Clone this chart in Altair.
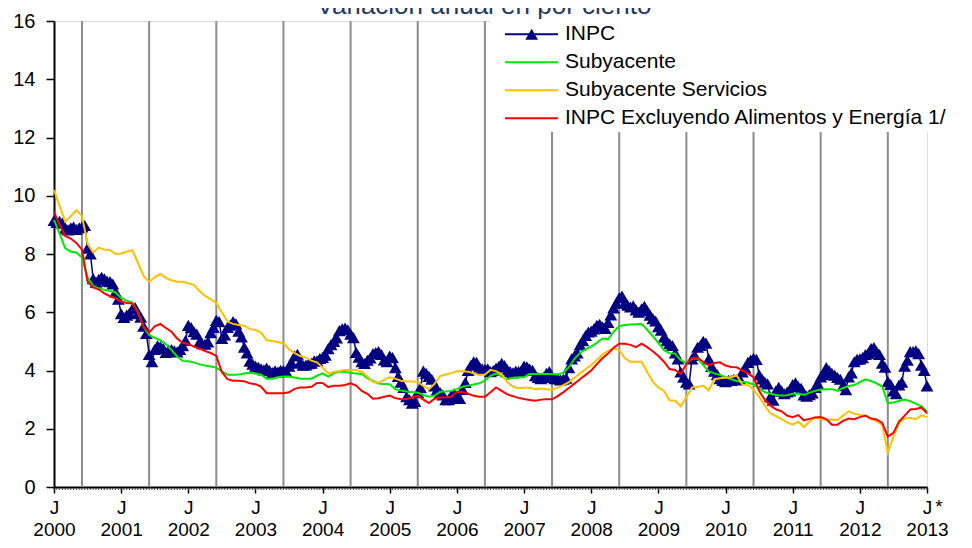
import json
import altair as alt
import pandas as pd

# ---------------- data ----------------
# INPC, fortnightly, 1st half July 2000 ... 1st half July 2013 (313 values)
inpc_2000 = [9.15, 9.08, 9.12, 9.06, 8.88, 8.83, 8.90, 8.93, 8.84, 8.90, 8.93, 8.98]
inpc_2001 = [8.20, 8.00, 7.15, 7.03, 7.13, 7.20, 7.15, 7.07, 7.05, 6.97, 6.70, 6.45,
             5.95, 5.82, 5.90, 5.96, 6.12, 6.16, 5.95, 5.83, 5.52, 5.27, 4.55, 4.30]
inpc_2002 = [4.72, 4.85, 4.82, 4.76, 4.62, 4.70, 4.72, 4.68, 4.64, 4.72, 4.85, 5.03,
             5.55, 5.47, 5.33, 5.25, 4.98, 4.92, 4.90, 4.98, 5.30, 5.48, 5.72, 5.68]
inpc_2003 = [5.10, 5.22, 5.48, 5.56, 5.68, 5.60, 5.35, 5.15, 4.80, 4.60, 4.32, 4.22,
             4.15, 4.11, 4.06, 4.02, 4.08, 4.00, 3.93, 3.99, 3.95, 4.01, 4.00, 3.96]
inpc_2004 = [4.15, 4.25, 4.50, 4.56, 4.28, 4.18, 4.19, 4.23, 4.25, 4.33, 4.33, 4.41,
             4.45, 4.53, 4.75, 4.89, 5.00, 5.12, 5.37, 5.43, 5.46, 5.40, 5.25, 5.13]
inpc_2005 = [4.62, 4.46, 4.30, 4.24, 4.35, 4.43, 4.58, 4.62, 4.65, 4.55, 4.36, 4.30,
             4.50, 4.44, 4.10, 3.80, 3.60, 3.42, 3.10, 3.00, 2.88, 2.94, 3.25, 3.41]
inpc_2006 = [3.98, 3.90, 3.80, 3.70, 3.47, 3.35, 3.24, 3.16, 3.00, 3.00, 3.15, 3.21,
             3.08, 3.04, 3.35, 3.59, 4.00, 4.18, 4.30, 4.28, 4.12, 4.06, 4.04, 4.06]
inpc_2007 = [3.96, 4.00, 4.08, 4.14, 4.25, 4.17, 4.02, 3.96, 3.92, 3.98, 3.96, 4.00,
             4.15, 4.13, 4.05, 4.01, 3.82, 3.76, 3.72, 3.76, 3.90, 3.96, 3.80, 3.72]
inpc_2008 = [3.72, 3.68, 3.70, 3.74, 4.10, 4.40, 4.50, 4.60, 4.88, 5.02, 5.20, 5.32,
             5.35, 5.43, 5.55, 5.59, 5.50, 5.44, 5.65, 5.91, 6.15, 6.31, 6.50, 6.56]
inpc_2009 = [6.32, 6.24, 6.18, 6.22, 6.08, 6.00, 6.12, 6.20, 6.05, 5.90, 5.78, 5.70,
             5.50, 5.38, 5.14, 5.02, 4.92, 4.86, 4.60, 4.40, 3.95, 3.77, 3.60, 3.54]
inpc_2010 = [4.40, 4.52, 4.80, 4.86, 5.00, 4.94, 4.40, 4.14, 3.98, 3.86, 3.72, 3.66,
             3.62, 3.66, 3.66, 3.70, 3.68, 3.72, 3.95, 4.09, 4.28, 4.36, 4.42, 4.38]
inpc_2011 = [3.85, 3.71, 3.60, 3.54, 3.10, 2.98, 3.30, 3.42, 3.30, 3.20, 3.26, 3.30,
             3.52, 3.58, 3.45, 3.39, 3.16, 3.12, 3.17, 3.23, 3.42, 3.54, 3.78, 3.86]
inpc_2012 = [4.10, 4.00, 3.90, 3.84, 3.76, 3.70, 3.48, 3.34, 3.78, 3.92, 4.30, 4.38,
             4.40, 4.44, 4.55, 4.59, 4.75, 4.79, 4.65, 4.55, 4.25, 4.11, 3.62, 3.52]
inpc_2013 = [3.30, 3.20, 3.50, 3.60, 4.15, 4.35, 4.65, 4.65, 4.68, 4.58, 4.18, 4.00, 3.47]

# Monthly series, July 2000 ... July 2013 (157 values)
subyacente = [
    9.17, 8.70, 8.20, 8.08, 8.05, 7.88,
    7.20, 6.90, 6.82, 6.77, 6.73, 6.68, 6.48, 6.40, 6.33, 6.00, 5.50, 5.22,
    5.12, 5.04, 4.90, 4.70, 4.48, 4.33, 4.32, 4.28, 4.21, 4.17, 4.14, 4.10,
    3.97, 3.85, 3.85, 3.86, 3.90, 3.92, 3.90, 3.86, 3.72, 3.72, 3.77, 3.79,
    3.79, 3.76, 3.72, 3.72, 3.72, 3.82, 3.90, 3.79, 3.90, 3.96, 3.95, 3.92,
    3.90, 3.88, 3.74, 3.64, 3.55, 3.54, 3.53, 3.36, 3.31, 3.28, 3.26, 3.24,
    3.16, 3.10, 3.14, 3.27, 3.28, 3.30, 3.36, 3.44, 3.48, 3.52, 3.56, 3.66,
    3.82, 3.90, 3.80, 3.70, 3.75, 3.77, 3.77, 3.88, 3.88, 3.88, 3.88, 3.88,
    3.86, 3.92, 4.12, 4.40, 4.60, 4.73, 4.82, 4.95, 5.10, 5.07, 5.33, 5.52,
    5.56, 5.58, 5.59, 5.60, 5.40, 5.18, 4.95, 4.70, 4.59, 4.58, 4.35, 4.25,
    4.40, 4.42, 4.19, 3.97, 3.90, 3.85, 3.77, 3.70, 3.64, 3.61, 3.59, 3.52,
    3.38, 3.26, 3.20, 3.16, 3.14, 3.15, 3.20, 3.21, 3.16, 3.24, 3.30, 3.35,
    3.36, 3.36, 3.31, 3.40, 3.47, 3.50, 3.60, 3.70, 3.64, 3.56, 3.45, 2.88,
    2.90, 2.95, 3.00, 2.95, 2.86, 2.77, 2.59]

servicios = [
    10.20, 9.65, 9.11, 9.30, 9.50, 9.30,
    8.35, 8.05, 8.22, 8.15, 8.14, 8.00, 8.02, 8.08, 8.13, 7.70, 7.25, 7.05,
    7.20, 7.32, 7.18, 7.10, 7.05, 7.05, 7.00, 6.93, 6.73, 6.56, 6.45, 6.32,
    6.00, 5.68, 5.60, 5.56, 5.54, 5.42, 5.39, 5.30, 5.04, 5.01, 4.98, 4.93,
    4.73, 4.60, 4.50, 4.45, 4.34, 4.28, 4.10, 3.90, 3.95, 3.98, 4.02, 4.02,
    4.02, 3.95, 3.80, 3.60, 3.58, 3.68, 3.77, 3.72, 3.65, 3.62, 3.62, 3.61,
    3.47, 3.36, 3.54, 3.81, 3.86, 3.91, 3.97, 3.97, 3.96, 3.90, 3.85, 3.86,
    4.02, 3.98, 3.88, 3.60, 3.45, 3.39, 3.41, 3.41, 3.36, 3.38, 3.36, 3.34,
    3.41, 3.50, 3.60, 3.75, 3.90, 4.05, 4.19, 4.36, 4.55, 4.67, 4.76, 4.70,
    4.43, 4.30, 4.30, 4.30, 3.95, 3.62, 3.42, 3.30, 2.98, 2.96, 2.77, 3.08,
    3.42, 3.43, 3.48, 3.32, 3.70, 3.73, 3.75, 3.77, 3.83, 3.52, 3.50, 3.35,
    3.10, 2.80, 2.53, 2.43, 2.33, 2.22, 2.14, 2.24, 2.06, 2.25, 2.39, 2.33,
    2.30, 2.32, 2.30, 2.45, 2.60, 2.52, 2.47, 2.45, 2.34, 2.25, 2.13, 1.18,
    1.72, 2.20, 2.35, 2.38, 2.33, 2.46, 2.40]

sin_alim_energia = [
    9.45, 9.00, 8.62, 8.53, 8.38, 8.15,
    7.05, 6.85, 6.78, 6.65, 6.55, 6.48, 6.37, 6.32, 6.30, 6.00, 5.50, 5.30,
    5.52, 5.60, 5.46, 5.33, 5.10, 4.95, 4.90, 4.83, 4.75, 4.67, 4.60, 4.50,
    3.95, 3.70, 3.65, 3.65, 3.63, 3.56, 3.53, 3.45, 3.22, 3.22, 3.22, 3.22,
    3.25, 3.37, 3.42, 3.42, 3.44, 3.57, 3.57, 3.43, 3.48, 3.48, 3.50, 3.56,
    3.48, 3.30, 3.20, 3.03, 3.05, 3.10, 3.14, 3.05, 3.01, 3.02, 3.08, 3.13,
    3.00, 2.88, 3.03, 3.07, 3.08, 3.10, 3.27, 3.26, 3.20, 3.13, 3.10, 3.10,
    3.25, 3.42, 3.30, 3.18, 3.12, 3.06, 3.02, 2.99, 2.96, 3.00, 3.01, 3.01,
    3.12, 3.25, 3.40, 3.55, 3.70, 3.85, 4.00, 4.22, 4.42, 4.58, 4.78, 4.92,
    4.92, 4.88, 4.80, 4.92, 4.80, 4.66, 4.50, 4.30, 4.05, 4.02, 3.88, 4.22,
    4.43, 4.44, 4.30, 4.18, 4.26, 4.28, 4.17, 4.12, 4.11, 4.00, 3.90, 3.77,
    3.30, 3.00, 2.80, 2.67, 2.60, 2.45, 2.40, 2.47, 2.29, 2.34, 2.39, 2.40,
    2.33, 2.14, 2.14, 2.27, 2.35, 2.33, 2.40, 2.45, 2.35, 2.32, 2.20, 1.73,
    1.86, 2.25, 2.45, 2.66, 2.68, 2.73, 2.53]

series_names = ["INPC", "Subyacente", "Subyacente Servicios",
                "INPC Excluyendo Alimentos y Energía 1/"]
series_colors = ["#000080", "#00E800", "#FFC000", "#FF0000"]
year_labels = [str(y) for y in range(2000, 2014)]
tick_letter = "J"
title_text = "Variación anual en por ciento"

# fortnight index of each July (label ticks) and of each year-end divider
label_idx = [24 * k for k in range(14)]
divider_idx = [10 + 24 * k for k in range(13)]

# ---------------- frames ----------------
inpc = (inpc_2000 + inpc_2001 + inpc_2002 + inpc_2003 + inpc_2004 + inpc_2005 +
        inpc_2006 + inpc_2007 + inpc_2008 + inpc_2009 + inpc_2010 + inpc_2011 +
        inpc_2012 + inpc_2013)
inpc_df = pd.DataFrame({"i": list(range(len(inpc))), "v": inpc})
monthly = {series_names[1]: subyacente, series_names[2]: servicios,
           series_names[3]: sin_alim_energia}
div_df = pd.DataFrame({"i": divider_idx})
minor_df = pd.DataFrame({"i": list(range(len(inpc)))})

W, H = 873, 466
FONT = "Liberation Sans"

xscale = alt.Scale(domain=[0, 312], nice=False, zero=False)
yscale = alt.Scale(domain=[0, 16], nice=False, zero=True)
label_expr = "['%s', %s[round(datum.value / 24)]]" % (tick_letter, json.dumps(year_labels))
xaxis = alt.Axis(values=label_idx, labelExpr=label_expr, title=None, grid=False,
                 tickSize=6, tickColor="black", tickWidth=1.5,
                 domainColor="black", domainWidth=2, labelFontSize=19,
                 labelFont=FONT, labelColor="black", labelPadding=5,
                 labelLineHeight=22, labelBaseline="top", labelAngle=0,
                 labelFlush=False, labelOverlap=False)
yaxis = alt.Axis(values=list(range(0, 17, 2)), title=None, grid=False,
                 tickSize=8, tickColor="black", tickWidth=1.5,
                 domainColor="black", domainWidth=2, labelFontSize=20,
                 labelFont=FONT, labelColor="black", labelPadding=11)

X = alt.X("i:Q", scale=xscale, axis=xaxis)
Y = alt.Y("v:Q", scale=yscale, axis=yaxis)

layers = []

# year-end dividers
layers.append(alt.Chart(div_df).mark_rule(color="#8C8C8C", strokeWidth=2).encode(
    x=X, y=alt.value(0), y2=alt.value(H)))

# white box behind the legend
layers.append(alt.Chart(pd.DataFrame({"a": [0]})).mark_rect(color="white").encode(
    x=alt.value(436), x2=alt.value(910), y=alt.value(-1), y2=alt.value(111)))

# INPC line + triangles
layers.append(alt.Chart(inpc_df).mark_line(color=series_colors[0], strokeWidth=1.5).encode(x=X, y=Y))
layers.append(alt.Chart(inpc_df).mark_point(shape="triangle-up", filled=True, size=165,
                                            color=series_colors[0], opacity=1).encode(x=X, y=Y))

# other series
for name, color in zip(series_names[1:], series_colors[1:]):
    vals = monthly[name]
    df = pd.DataFrame({"i": [2 * m for m in range(len(vals))], "v": vals})
    layers.append(alt.Chart(df).mark_line(color=color, strokeWidth=2).encode(x=X, y=Y))

# minor (fortnight) ticks
layers.append(alt.Chart(minor_df).mark_rule(color="#444444", strokeWidth=1).encode(
    x=X, y=alt.value(H + 1), y2=alt.value(H + 3)))

# asterisk after the last tick label
layers.append(alt.Chart(pd.DataFrame({"i": [label_idx[-1]], "t": ["*"]})).mark_text(
    fontSize=19, font=FONT, color="black", align="center", baseline="alphabetic", dx=12
).encode(x=X, y=alt.value(H + 26), text="t:N"))

# title (partly outside the picture, as in the reference)
layers.append(alt.Chart(pd.DataFrame({"t": [title_text]})).mark_text(
    fontSize=26, font=FONT, color="#1F3864", align="center", baseline="alphabetic"
).encode(x=alt.value(430), y=alt.value(-7), text="t:N"))

# legend
for k, (name, color) in enumerate(zip(series_names, series_colors)):
    ry = 13.3 + 28 * k
    one = pd.DataFrame({"t": [name]})
    layers.append(alt.Chart(one).mark_rule(color=color, strokeWidth=2).encode(
        x=alt.value(451), x2=alt.value(504), y=alt.value(ry)))
    if k == 0:
        layers.append(alt.Chart(one).mark_point(shape="triangle-up", filled=True, size=160,
                                                color=color, opacity=1).encode(
            x=alt.value(477.7), y=alt.value(ry)))
    layers.append(alt.Chart(one).mark_text(fontSize=21, font=FONT, color="black",
                                           align="left", baseline="middle").encode(
        x=alt.value(511), y=alt.value(ry), text="t:N"))

chart = alt.layer(*layers).properties(
    width=W, height=H,
    padding={"left": 46, "top": 13, "right": 36, "bottom": 53},
    autosize=alt.AutoSizeParams(type="none"),
).configure_view(stroke=None).configure(background="white")

chart.save("out.html", embed_options={"renderer": "svg", "actions": False})
